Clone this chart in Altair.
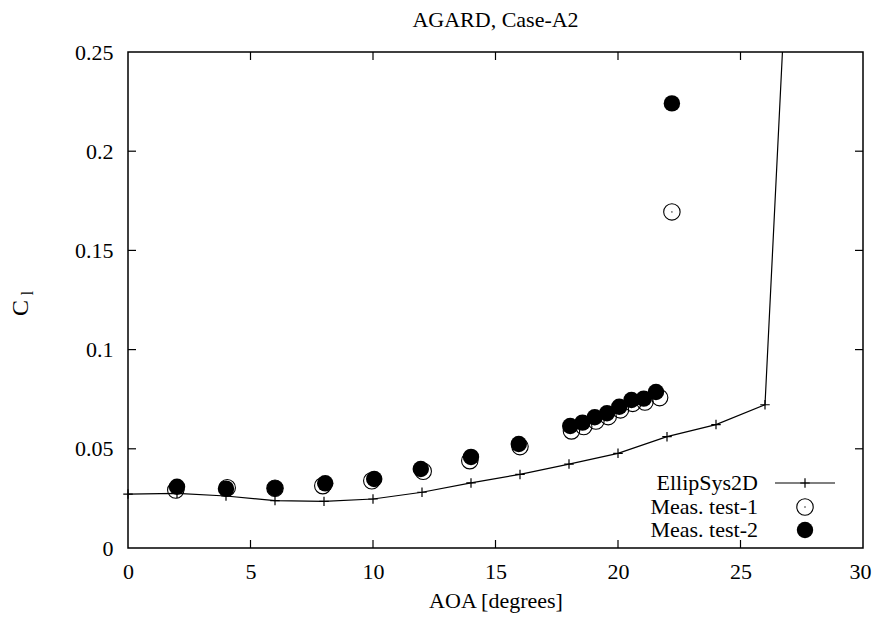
import altair as alt
import pandas as pd

# EllipSys2D computation
ell_aoa = [0, 2, 4, 6, 8, 10, 12, 14, 16, 18, 20, 22, 24, 26, 27]
ell_cl = [0.0272, 0.0275, 0.0262, 0.0239, 0.0235, 0.0247, 0.0281, 0.0328,
          0.0371, 0.0423, 0.0477, 0.0561, 0.0622, 0.0722, 0.322]

# Measurements, test 1 (open circles)
t1_aoa = [1.95, 4.05, 6.0, 7.95, 9.95, 12.05, 13.95, 16.0, 18.1, 18.6, 19.1,
          19.6, 20.1, 20.6, 21.1, 21.7, 22.2]
t1_cl = [0.0292, 0.0304, 0.0301, 0.0314, 0.0339, 0.0387, 0.0440, 0.0511,
         0.0590, 0.0612, 0.0640, 0.0662, 0.0696, 0.0729, 0.0736, 0.0758, 0.1694]

# Measurements, test 2 (filled circles)
t2_aoa = [2.0, 4.0, 6.0, 8.05, 10.05, 11.95, 14.0, 15.95, 18.05, 18.55, 19.05,
          19.55, 20.05, 20.55, 21.05, 21.55, 22.2]
t2_cl = [0.0309, 0.0299, 0.0301, 0.0326, 0.0348, 0.0398, 0.0459, 0.0524,
         0.0615, 0.0632, 0.0659, 0.0679, 0.0712, 0.0746, 0.0753, 0.0786, 0.2241]

x_ticks = [0, 5, 10, 15, 20, 25, 30]
y_ticks = [0, 0.05, 0.1, 0.15, 0.2, 0.25]
inner_x_ticks = [5, 10, 15, 20, 25]
inner_y_ticks = [0.05, 0.1, 0.15, 0.2]
legend_labels = ["EllipSys2D", "Meas. test-1", "Meas. test-2"]

W, H = 735, 496
FONT = "Liberation Serif"
PLUS = "M-1,0H1M0,-1V1"

ell = pd.DataFrame({"aoa": ell_aoa, "cl": ell_cl})
t1 = pd.DataFrame({"aoa": t1_aoa, "cl": t1_cl})
t2 = pd.DataFrame({"aoa": t2_aoa, "cl": t2_cl})

xs = alt.Scale(domain=[0, 30], nice=False, zero=False)
ys = alt.Scale(domain=[0, 0.25], nice=False, zero=False)

xax = alt.Axis(values=x_ticks, format="~g", ticks=False, tickSize=0, domain=False,
               grid=False, labelFont=FONT, labelFontSize=22, labelColor="black",
               labelPadding=13, title="AOA [degrees]", titleFont=FONT,
               titleFontSize=22, titleFontWeight="normal", titleColor="black",
               titlePadding=8, labelFlush=False,
               labelOffset={"condition": {"test": "datum.value == 30", "value": -3},
                            "value": 0})
yax = alt.Axis(values=y_ticks, format="~g", ticks=False, tickSize=0, domain=False,
               grid=False, labelFont=FONT, labelFontSize=22, labelColor="black",
               labelPadding=15, title=None, labelFlush=False)

X = alt.X("aoa:Q", scale=xs, axis=xax)
Y = alt.Y("cl:Q", scale=ys, axis=yax)

line = alt.Chart(ell).mark_line(color="black", strokeWidth=1.2, clip=True).encode(x=X, y=Y)
plus = alt.Chart(ell).transform_filter(alt.datum.cl <= 0.25).mark_point(
    shape=PLUS, size=90, color="black", strokeWidth=1.2, filled=False, opacity=1
).encode(x=X, y=Y)
open_c = alt.Chart(t1).mark_point(shape="circle", size=270, color="black", strokeWidth=1.1,
                                  filled=False, opacity=1).encode(x=X, y=Y)
open_dot = alt.Chart(t1).mark_point(shape="circle", size=2, color="black", filled=True,
                                    opacity=1).encode(x=X, y=Y)
fill_c = alt.Chart(t2).mark_point(shape="circle", size=270, color="black", filled=True,
                                  opacity=1).encode(x=X, y=Y)

# inward ticks on all four sides
bx = alt.Chart(pd.DataFrame({"t": inner_x_ticks})).mark_rule(color="black", strokeWidth=1.2)
ticks_bottom = bx.encode(x=alt.X("t:Q", scale=xs), y=alt.value(H), y2=alt.value(H - 8))
ticks_top = bx.encode(x=alt.X("t:Q", scale=xs), y=alt.value(0), y2=alt.value(8))
by = alt.Chart(pd.DataFrame({"t": inner_y_ticks})).mark_rule(color="black", strokeWidth=1.2)
ticks_left = by.encode(y=alt.Y("t:Q", scale=ys), x=alt.value(0), x2=alt.value(8))
ticks_right = by.encode(y=alt.Y("t:Q", scale=ys), x=alt.value(W), x2=alt.value(W - 8))

one = pd.DataFrame({"k": [0]})
base1 = alt.Chart(one)

# y axis title C_l
ytitle_c = base1.mark_text(text="C", font=FONT, fontSize=24, angle=270, align="center",
                           baseline="middle", color="black").encode(
    x=alt.value(-107), y=alt.value(256))
ytitle_l = base1.mark_text(text="l", font=FONT, fontSize=16, angle=270, align="center",
                           baseline="middle", color="black").encode(
    x=alt.value(-100), y=alt.value(241))

# legend
leg_rows = [431, 455, 478]
leg_text = [base1.mark_text(text=lab, font=FONT, fontSize=22, align="right",
                            baseline="middle", color="black").encode(
    x=alt.value(630), y=alt.value(yy)) for lab, yy in zip(legend_labels, leg_rows)]
leg_line = base1.mark_rule(color="black", strokeWidth=1.2).encode(
    x=alt.value(647), x2=alt.value(707), y=alt.value(leg_rows[0]))
leg_plus = base1.mark_point(shape=PLUS, size=90, color="black", strokeWidth=1.2,
                            filled=False, opacity=1).encode(
    x=alt.value(677), y=alt.value(leg_rows[0]))
leg_open = base1.mark_point(shape="circle", size=270, color="black", strokeWidth=1.1,
                            filled=False, opacity=1).encode(
    x=alt.value(677), y=alt.value(leg_rows[1]))
leg_dot = base1.mark_point(shape="circle", size=2, color="black", filled=True,
                           opacity=1).encode(x=alt.value(677), y=alt.value(leg_rows[1]))
leg_fill = base1.mark_point(shape="circle", size=270, color="black", filled=True,
                            opacity=1).encode(x=alt.value(677), y=alt.value(leg_rows[2]))

chart = alt.layer(
    line, plus, open_c, open_dot, fill_c,
    ticks_bottom, ticks_top, ticks_left, ticks_right,
    ytitle_c, ytitle_l, *leg_text, leg_line, leg_plus, leg_open, leg_dot, leg_fill
).properties(
    width=W, height=H,
    title=alt.TitleParams("AGARD, Case-A2", font=FONT, fontSize=22, fontWeight="normal",
                          color="black", offset=9, anchor="middle"),
    autosize=alt.AutoSizeParams(type="none"),
    padding={"left": 120, "top": 44, "right": 9, "bottom": 65},
    background="white",
).configure_view(stroke="black", strokeWidth=1.5
).configure_axis(labelFont=FONT, titleFont=FONT
).configure_text(font=FONT
).configure_title(font=FONT)

chart.save("out.html", embed_options={"renderer": "svg", "actions": False})
